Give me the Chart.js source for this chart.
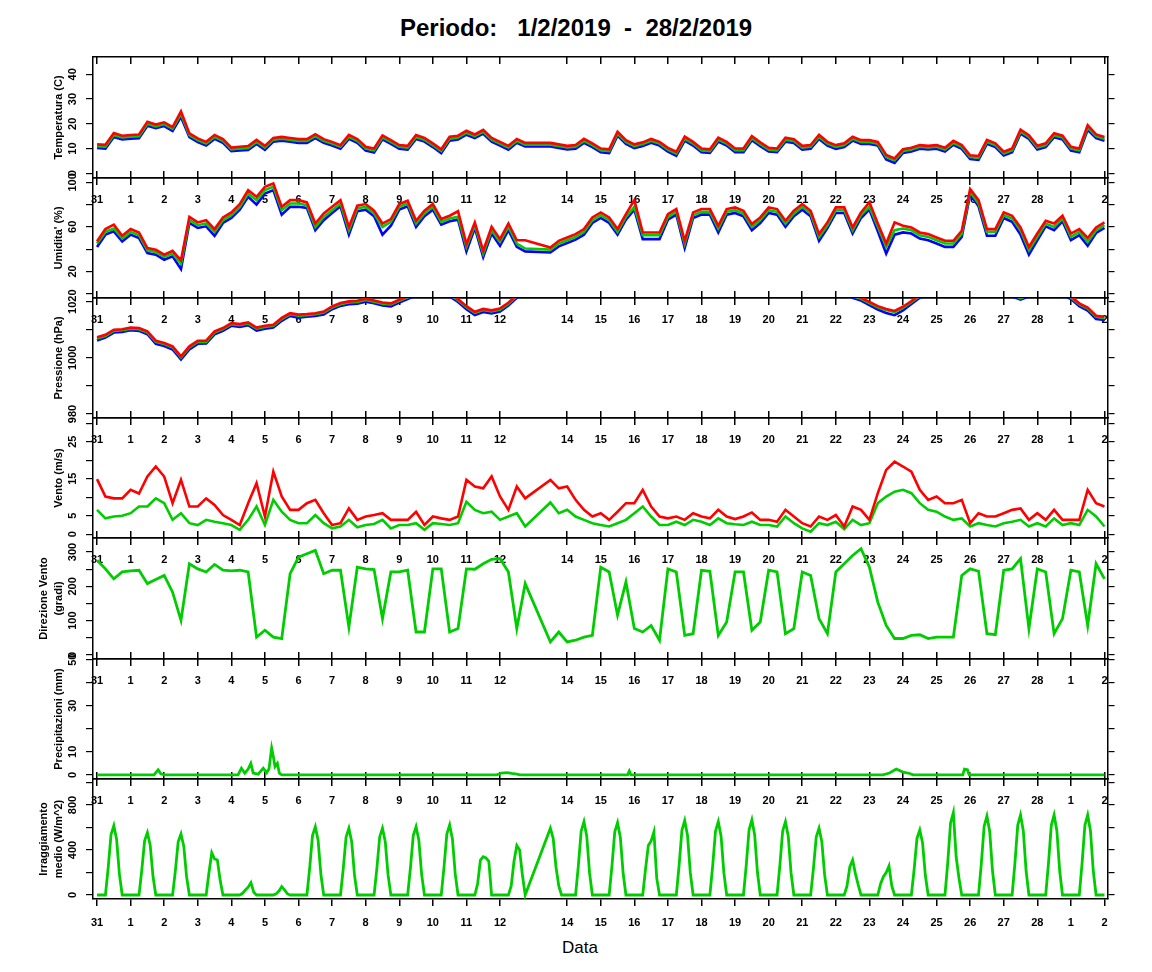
<!DOCTYPE html>
<html lang="it">
<head>
<meta charset="UTF-8">
<title>Periodo 1/2/2019 - 28/2/2019</title>
<script src="https://cdn.jsdelivr.net/npm/chart.js@4"></script>
<style>
  body { margin: 0; background: #fff; }
  #page { position: relative; width: 1152px; height: 972px; overflow: hidden; font-family: "Liberation Sans", Arial, sans-serif; color: #000; }
  #page canvas { position: absolute; left: 0; }
  #title { position: absolute; left: 400px; top: 14px; font-size: 24px; line-height: 28px; font-weight: bold; white-space: pre; }
  #xlabel { position: absolute; left: 562px; top: 938px; font-size: 17px; line-height: 20px; }
</style>
</head>
<body>
<div id="page">
  <div id="title">Periodo:   1/2/2019  -  28/2/2019</div>
  <div id="xlabel">Data</div>
</div>
<script>
// x is in days: -1 is the "31" tick, 0 the "1" tick ... 29 the last "2" tick
const dayTicks = [-1, 0, 1, 2, 3, 4, 5, 6, 7, 8, 9, 10, 11, 13, 14, 15, 16, 17, 18, 19, 20, 21, 22, 23, 24, 25, 26, 27, 28, 29];
const dayLabels = ['31', '1', '2', '3', '4', '5', '6', '7', '8', '9', '10', '11', '12', '14', '15', '16', '17', '18',
                   '19', '20', '21', '22', '23', '24', '25', '26', '27', '28', '1', '2'];

// readings every 6 hours (no data around the 13th)
const sampleDays = Array.from({ length: 121 }, (_, i) => -1 + i / 4);

const tempMax = [
  11.7, 11.5, 16.3, 15.2, 15.5, 15.7, 20.8, 19.7,
  20.6, 18.7, 25.0, 16.1, 14.1, 12.7, 15.5, 13.8,
  10.4, 10.7, 11.0, 13.5, 11.1, 14.3, 14.7, 14.3,
  13.8, 13.8, 15.8, 13.8, 12.7, 11.4, 15.5, 13.8,
  10.7, 10.0, 15.3, 13.4, 11.4, 11.1, 15.5, 14.3,
  12.1, 9.7, 14.8, 15.2, 17.2, 15.7, 17.6, 14.3,
  12.7, 11.1, 13.9, 12.3, null, null, 12.3, 11.7,
  11.1, 11.4, 13.9, 12.1, 10.0, 9.7, 16.8, 13.4,
  11.7, 12.5, 13.9, 12.7, 10.3, 8.7, 14.8, 12.7,
  10.0, 9.7, 14.4, 12.7, 10.0, 10.0, 15.0, 12.5,
  10.3, 10.0, 14.4, 13.8, 11.1, 11.4, 15.5, 12.7,
  11.4, 12.1, 14.8, 13.4, 13.4, 12.7, 7.4, 6.0,
  9.7, 10.3, 11.4, 11.1, 11.4, 10.3, 13.1, 11.4,
  7.3, 7.0, 13.5, 12.1, 8.7, 10.0, 17.6, 15.4,
  11.1, 12.1, 16.2, 15.2, 10.7, 10.0, 19.4, 15.7,
  14.7
];
const tempAvg = [
  11.0, 10.8, 15.5, 14.5, 14.8, 15.0, 20.0, 19.0,
  19.9, 18.0, 24.0, 15.4, 13.4, 12.0, 14.7, 13.1,
  9.7, 10.0, 10.2, 12.7, 10.4, 13.6, 14.0, 13.6,
  13.1, 13.1, 15.0, 13.1, 12.0, 10.7, 14.7, 13.1,
  10.0, 9.3, 14.5, 12.7, 10.7, 10.4, 14.7, 13.6,
  11.4, 9.0, 14.0, 14.5, 16.4, 15.0, 16.8, 13.6,
  12.0, 10.4, 13.1, 11.6, null, null, 11.6, 11.0,
  10.4, 10.7, 13.1, 11.4, 9.3, 9.0, 16.0, 12.7,
  11.0, 11.8, 13.1, 12.0, 9.6, 8.0, 14.0, 12.0,
  9.3, 9.0, 13.6, 12.0, 9.3, 9.3, 14.2, 11.8,
  9.6, 9.3, 13.6, 13.1, 10.4, 10.7, 14.7, 12.0,
  10.7, 11.4, 14.0, 12.7, 12.7, 12.0, 6.6, 5.3,
  9.0, 9.6, 10.7, 10.4, 10.7, 9.6, 12.3, 10.7,
  6.6, 6.3, 12.7, 11.4, 8.0, 9.3, 16.8, 14.7,
  10.4, 11.4, 15.4, 14.5, 10.0, 9.3, 18.5, 15.0,
  14.0
];
const tempMin = [
  10.2, 10.0, 14.7, 13.7, 14.0, 14.2, 19.2, 18.2,
  19.1, 17.1, 22.8, 14.6, 12.6, 11.2, 13.9, 12.3,
  8.9, 9.2, 9.4, 11.9, 9.5, 12.8, 13.2, 12.8,
  12.3, 12.3, 14.2, 12.3, 11.2, 9.9, 13.9, 12.3,
  9.2, 8.4, 13.7, 11.9, 9.9, 9.6, 13.9, 12.8,
  10.6, 8.1, 13.2, 13.7, 15.6, 14.2, 16.0, 12.8,
  11.2, 9.5, 12.3, 10.8, null, null, 10.8, 10.2,
  9.6, 9.9, 12.3, 10.6, 8.5, 8.2, 15.2, 11.9,
  10.2, 11.0, 12.3, 11.2, 8.8, 7.1, 13.2, 11.2,
  8.5, 8.2, 12.8, 11.2, 8.5, 8.5, 13.4, 11.0,
  8.8, 8.5, 12.8, 12.3, 9.6, 9.9, 13.9, 11.2,
  9.9, 10.6, 13.2, 11.9, 11.9, 11.2, 5.6, 4.2,
  8.2, 8.8, 9.9, 9.6, 9.9, 8.8, 11.5, 9.9,
  5.8, 5.4, 11.9, 10.6, 7.2, 8.5, 16.0, 13.9,
  9.6, 10.6, 14.6, 13.7, 9.2, 8.5, 17.6, 14.2,
  13.2
];

const humMax = [
  47, 58, 62, 52, 58, 55, 41, 39.5,
  35, 38.5, 30, 69, 64, 66, 58, 68.5,
  73, 80.5, 93, 87, 96, 99, 78, 84,
  84, 82, 63, 72, 78, 84, 60, 79,
  80.5, 74.5, 63, 67, 80.5, 83.5, 65.5, 74.5,
  80.5, 67, 70, 74, 44.5, 64, 38.5, 60,
  49, 63, 48, 48, null, null, 41.5, 47.5,
  50.5, 53.5, 58, 68.5, 73, 68.5, 58, 71.5,
  84, 55, 55, 55, 71.5, 76, 47.5, 73,
  76, 76, 61, 76, 77.5, 74.5, 62.5, 68.5,
  77.5, 76, 65.5, 74.5, 80.5, 74.5, 53.5, 64,
  77.5, 77.5, 59.5, 73, 82, 63, 45, 64,
  61, 59.5, 55, 53.5, 50.5, 47.5, 47.5, 56.5,
  94, 84, 58, 58, 73, 70, 59.5, 42,
  54, 65.5, 63, 70, 54, 58, 50, 59.5,
  64
];
const humAvg = [
  45, 55.5, 58.5, 49.5, 55.5, 52.5, 39, 37.5,
  33, 36, 27, 66, 61.5, 63, 55.5, 66,
  70.5, 78, 90, 84, 93, 96, 75, 81,
  81, 79.5, 60, 69, 75, 81, 57, 76.5,
  78, 72, 60, 64.5, 78, 81, 63, 72,
  78, 64.5, 67.5, 69, 42, 61.5, 36, 57,
  46.5, 60, 45, 40.5, null, null, 39.6, 45,
  48, 51, 55.5, 66, 70.5, 66, 55.5, 69,
  78, 52.5, 52.5, 52.5, 69, 73.5, 45, 70.5,
  73.5, 73.5, 58.5, 73.5, 75, 72, 60, 66,
  75, 73.5, 63, 72, 78, 72, 51, 61.5,
  75, 75, 57, 70.5, 78, 60, 42, 57,
  58.5, 57, 52.5, 51, 48, 45, 45, 54,
  91.5, 81, 55.5, 55.5, 70.5, 67.5, 57, 39,
  51, 63, 60, 67.5, 51, 55.5, 46.5, 57,
  61.5
];
const humMin = [
  42, 53, 56, 47, 53, 50, 36.5, 35,
  30.5, 33.5, 22, 63.5, 59, 60.5, 52, 63.5,
  68, 75.5, 87, 80, 90, 93, 71, 78,
  78, 77, 57, 66, 72.5, 78.5, 53, 74,
  75.5, 69.5, 53, 61, 75.5, 78.5, 60, 69.5,
  75.5, 62, 65, 66.5, 38, 59, 33, 54,
  43, 57, 42, 38, null, null, 37, 42.5,
  45.5, 48.5, 53, 63.5, 68, 63.5, 53, 66.5,
  75.5, 49, 49, 49, 66.5, 71, 41, 68,
  71, 71, 55, 71, 72.5, 69.5, 57, 63.5,
  72.5, 71, 60, 69.5, 75.5, 69.5, 47.5, 59,
  72.5, 72.5, 54, 68, 75.5, 56, 36, 53,
  55, 54, 49.5, 48, 45, 42, 42, 51,
  89, 78.5, 52, 52, 68, 64.5, 53, 35,
  48, 60.5, 57, 65, 48, 52.5, 43, 54.5,
  59
];

const pressMax = [
  1007.3, 1008.2, 1010.0, 1010.2, 1010.8, 1010.6, 1009.4, 1006.1,
  1005.3, 1004.1, 1000.5, 1004.1, 1006.1, 1006.1, 1009.4, 1010.6,
  1012.4, 1012.0, 1012.6, 1010.8, 1011.4, 1011.8, 1014.2, 1015.9,
  1015.4, 1015.6, 1015.9, 1016.5, 1018.3, 1019.5, 1020.1, 1020.3,
  1021.0, 1020.4, 1019.7, 1019.4, 1020.7, 1021.9, 1023.4, 1024.4,
  1024.9, 1024.4, 1022.9, 1020.9, 1018.4, 1016.4, 1017.4, 1016.9,
  1017.6, 1019.6, 1022.4, 1023.9, null, null, 1025.9, 1026.4,
  1026.9, 1027.4, 1027.9, 1028.4, 1028.9, 1028.4, 1027.9, 1027.9,
  1028.4, 1028.9, 1029.4, 1029.4, 1029.9, 1029.9, 1029.4, 1029.4,
  1029.9, 1030.4, 1029.9, 1029.4, 1029.4, 1028.9, 1028.4, 1028.4,
  1028.9, 1028.4, 1027.9, 1027.4, 1027.4, 1026.9, 1026.4, 1025.4,
  1024.9, 1024.4, 1022.4, 1021.4, 1019.9, 1018.4, 1017.4, 1016.7,
  1018.2, 1020.2, 1022.4, 1023.9, 1024.9, 1025.4, 1025.9, 1025.9,
  1025.4, 1024.4, 1023.4, 1022.9, 1022.9, 1022.9, 1021.6, 1022.9,
  1023.9, 1024.4, 1023.9, 1023.4, 1021.9, 1019.4, 1017.9, 1015.0,
  1014.6
];
const pressAvg = [
  1006.9, 1007.8, 1009.6, 1009.8, 1010.4, 1010.2, 1009.0, 1005.7,
  1004.9, 1003.7, 1000.1, 1003.7, 1005.7, 1005.7, 1009.0, 1010.2,
  1012.0, 1011.6, 1012.2, 1010.4, 1011.0, 1011.4, 1013.8, 1015.5,
  1015.0, 1015.2, 1015.5, 1016.1, 1017.9, 1019.1, 1019.7, 1019.9,
  1020.6, 1020.0, 1019.3, 1019.0, 1020.3, 1021.5, 1023.0, 1024.0,
  1024.5, 1024.0, 1022.5, 1020.5, 1018.0, 1016.0, 1017.0, 1016.5,
  1017.2, 1019.2, 1022.0, 1023.5, null, null, 1025.5, 1026.0,
  1026.5, 1027.0, 1027.5, 1028.0, 1028.5, 1028.0, 1027.5, 1027.5,
  1028.0, 1028.5, 1029.0, 1029.0, 1029.5, 1029.5, 1029.0, 1029.0,
  1029.5, 1030.0, 1029.5, 1029.0, 1029.0, 1028.5, 1028.0, 1028.0,
  1028.5, 1028.0, 1027.5, 1027.0, 1027.0, 1026.5, 1026.0, 1025.0,
  1024.5, 1024.0, 1022.0, 1021.0, 1019.5, 1018.0, 1017.0, 1016.3,
  1017.8, 1019.8, 1022.0, 1023.5, 1024.5, 1025.0, 1025.5, 1025.5,
  1025.0, 1024.0, 1023.0, 1022.5, 1022.5, 1022.5, 1021.2, 1022.5,
  1023.5, 1024.0, 1023.5, 1023.0, 1021.5, 1019.0, 1017.5, 1014.6,
  1014.2
];
const pressMin = [
  1006.2, 1007.2, 1009.0, 1009.2, 1009.8, 1009.6, 1008.4, 1005.0,
  1004.2, 1003.0, 999.4, 1003.0, 1005.0, 1005.1, 1008.4, 1009.6,
  1011.4, 1011.0, 1011.6, 1009.7, 1010.4, 1010.8, 1013.2, 1014.9,
  1014.3, 1014.6, 1014.9, 1015.4, 1017.3, 1018.5, 1019.1, 1019.3,
  1020.0, 1019.4, 1018.6, 1018.3, 1019.7, 1020.9, 1022.4, 1023.4,
  1023.9, 1023.4, 1021.9, 1019.9, 1017.3, 1015.2, 1016.3, 1015.8,
  1016.5, 1018.6, 1021.4, 1022.9, null, null, 1024.9, 1025.4,
  1025.9, 1026.4, 1026.9, 1027.4, 1027.9, 1027.4, 1026.9, 1026.9,
  1027.4, 1027.9, 1028.4, 1028.4, 1028.9, 1028.9, 1028.4, 1028.4,
  1028.9, 1029.4, 1028.9, 1028.4, 1028.4, 1027.9, 1027.4, 1027.4,
  1027.9, 1027.4, 1026.9, 1026.4, 1026.4, 1025.9, 1025.4, 1024.4,
  1023.9, 1023.4, 1021.4, 1020.4, 1018.8, 1017.2, 1016.0, 1015.2,
  1016.9, 1019.2, 1021.4, 1022.9, 1023.9, 1024.4, 1024.9, 1024.9,
  1024.4, 1023.4, 1022.4, 1021.9, 1021.9, 1021.9, 1020.7, 1021.9,
  1022.9, 1023.4, 1022.9, 1022.4, 1020.9, 1018.4, 1016.8, 1013.8,
  1013.5
];

const windMax = [
  14.9, 10.2, 9.7, 9.7, 12.0, 11.0, 15.6, 18.3,
  15.6, 8.4, 14.7, 7.5, 7.5, 9.7, 7.9, 5.2,
  3.9, 2.5, 8.4, 13.8, 4.8, 16.9, 10.2, 6.6,
  6.6, 8.4, 9.3, 5.7, 2.5, 3.0, 7.0, 3.9,
  4.8, 5.2, 5.7, 3.9, 3.9, 3.9, 6.1, 2.5,
  4.8, 4.3, 3.9, 4.8, 14.7, 12.9, 12.4, 15.6,
  10.2, 6.6, 12.9, 9.7, null, null, 14.7, 12.4,
  12.9, 9.3, 6.6, 4.8, 5.7, 3.9, 6.1, 8.4,
  8.4, 12.0, 7.5, 4.8, 4.3, 4.8, 3.9, 5.7,
  4.8, 4.3, 6.6, 4.8, 4.1, 4.8, 5.9, 3.9,
  3.9, 3.4, 6.6, 4.8, 3.0, 2.1, 4.8, 3.9,
  5.2, 2.1, 7.5, 6.6, 3.9, 11.1, 17.4, 19.6,
  18.3, 16.9, 12.0, 9.3, 10.2, 8.4, 8.4, 9.3,
  3.0, 5.7, 4.8, 4.8, 5.7, 6.6, 7.0, 3.9,
  5.7, 3.9, 6.6, 3.9, 3.9, 3.9, 12.0, 8.4,
  7.5
];
const windAvg = [
  6.6, 4.3, 4.8, 5.0, 5.7, 7.5, 7.5, 9.7,
  8.4, 3.9, 5.7, 3.0, 2.5, 3.9, 3.4, 3.0,
  2.5, 1.2, 3.9, 7.5, 2.5, 9.3, 6.1, 3.9,
  3.0, 3.0, 5.2, 3.0, 1.6, 2.1, 3.9, 1.9,
  2.5, 2.8, 3.9, 1.6, 2.5, 2.5, 3.0, 1.2,
  3.0, 2.8, 2.5, 3.0, 8.8, 6.6, 5.7, 6.1,
  3.9, 4.8, 5.7, 2.1, null, null, 8.6, 5.7,
  6.6, 4.8, 3.9, 3.0, 2.5, 2.1, 3.0, 3.9,
  5.7, 7.5, 4.8, 2.5, 2.5, 3.4, 2.5, 3.9,
  3.4, 2.5, 4.3, 3.0, 2.7, 2.5, 3.4, 2.5,
  2.5, 2.1, 4.8, 3.0, 1.6, 0.7, 3.0, 2.5,
  3.4, 1.4, 3.9, 2.5, 3.0, 8.4, 10.2, 11.5,
  12.0, 11.1, 8.4, 6.6, 6.1, 4.8, 3.9, 4.3,
  2.1, 3.0, 2.5, 2.1, 3.0, 3.4, 3.9, 2.1,
  3.0, 2.1, 4.3, 2.5, 3.0, 2.5, 6.6, 4.8,
  2.1
];

const windDir = [
  276, 251, 222, 242, 245, 247, 208, 220,
  232, 183, 101, 266, 251, 242, 264, 247,
  245, 247, 242, 52, 72, 52, 48, 237,
  285, 295, 305, 237, 247, 247, 81, 256,
  251, 249, 106, 242, 242, 247, 67, 67,
  251, 251, 67, 77, 251, 250, 266, 279,
  281, 242, 77, 208, null, null, 38, 67,
  38, 43, 52, 57, 256, 242, 116, 213,
  77, 67, 86, 43, 251, 242, 57, 62,
  247, 244, 57, 96, 242, 242, 72, 96,
  247, 242, 62, 77, 242, 232, 106, 62,
  242, 266, 290, 310, 256, 154, 86, 48,
  48, 57, 59, 48, 52, 52, 52, 232,
  251, 244, 62, 59, 247, 251, 281, 77,
  251, 242, 62, 106, 247, 242, 86, 266,
  222
];

// rain: only the few showers, zero elsewhere
const rainDays = [-1, 0.7, 0.78, 0.82, 0.9, 1.0, 3.2, 3.3, 3.4, 3.5, 3.58, 3.65, 3.8, 3.95, 4.05, 4.12, 4.2, 4.25,
                  4.3, 4.37, 4.43, 4.5, 10.9, 11.05, 11.2, 11.35, 11.5, 11.6, 14.8, 14.85, 14.9, 22.4, 22.6, 22.8,
                  23.0, 23.2, 23.3, 24.78, 24.83, 24.92, 24.97, 29];
const rainValues = [0, 0, 1.5, 2.2, 0.5, 0, 0, 2.9, 0.7, 2.5, 5.0, 0.8, 0.3, 2.9, 0.9, 2.5, 11.6, 8.0,
                    3.6, 5.0, 0.7, 0, 0, 0.8, 1.0, 0.6, 0.3, 0, 0, 1.7, 0, 0, 0.8, 2.5,
                    1.2, 0.6, 0, 0, 2.5, 2.2, 0, 0];

// solar radiation every 2 hours, one row per day
const solarDays = Array.from({ length: 361 }, (_, i) => -1 + i / 12);
const solarValues = [
  0, 0, 0, 0, 246, 536, 616, 493, 185, 0, 0, 0,
  0, 0, 0, 0, 222, 482, 554, 443, 166, 0, 0, 0,
  0, 0, 0, 0, 217, 472, 542, 434, 163, 0, 0, 0,
  0, 0, 0, 0, 200, 376, 320, 311, 130, 0, 0, 0,
  0, 0, 0, 0, 15, 44, 70, 110, 25, 0, 0, 0,
  0, 0, 0, 0, 10, 35, 74, 45, 12, 0, 0, 0,
  0, 0, 0, 0, 243, 528, 607, 486, 182, 0, 0, 0,
  0, 0, 0, 0, 237, 516, 593, 474, 178, 0, 0, 0,
  0, 0, 0, 0, 237, 516, 593, 474, 178, 0, 0, 0,
  0, 0, 0, 0, 243, 528, 607, 486, 182, 0, 0, 0,
  0, 0, 0, 0, 249, 541, 622, 498, 187, 0, 0, 0,
  0, 0, 0, 0, 100, 310, 340, 330, 300, 0, 0, 0,
  0, 0, 0, 0, 80, 300, 440, 400, 180, 0, null, null,
  null, null, null, null, null, null, 593, 504, 250, 80, 0, 0,
  0, 0, 0, 0, 261, 567, 652, 522, 196, 0, 0, 0,
  0, 0, 0, 0, 257, 559, 643, 514, 193, 0, 0, 0,
  0, 0, 0, 0, 230, 440, 480, 560, 150, 0, 0, 0,
  0, 0, 0, 0, 264, 575, 661, 529, 198, 0, 0, 0,
  0, 0, 0, 0, 261, 567, 652, 522, 196, 0, 0, 0,
  0, 0, 0, 0, 267, 580, 667, 534, 200, 0, 0, 0,
  0, 0, 0, 0, 261, 567, 652, 522, 196, 0, 0, 0,
  0, 0, 0, 0, 237, 516, 593, 474, 178, 0, 0, 0,
  0, 0, 0, 0, 80, 250, 311, 190, 90, 0, 0, 0,
  0, 0, 0, 0, 100, 163, 200, 258, 80, 0, 0, 0,
  0, 0, 0, 0, 231, 503, 578, 462, 173, 0, 0, 0,
  0, 0, 0, 0, 290, 640, 732, 340, 150, 0, 0, 0,
  0, 0, 0, 0, 281, 611, 702, 562, 211, 0, 0, 0,
  0, 0, 0, 0, 284, 619, 711, 569, 213, 0, 0, 0,
  0, 0, 0, 0, 284, 619, 711, 569, 213, 0, 0, 0,
  0, 0, 0, 0, 284, 619, 711, 569, 213, 0, 0, 0,
  0
];

const RED = '#ff0000';
const GREEN = '#00cd00';
const BLUE = '#0000ff';
const X_MIN = -1.12;
const X_MAX = 29.09;
const FONT = '"Liberation Sans", Arial, sans-serif';

// pixel rows of each panel frame on the page
const panelTops = [57, 178, 298, 418, 538, 659, 779];
const panelBottoms = [178, 298, 418, 538, 659, 779, 899];

const panels = [
  { min: -1.9, max: 47, ticks: [0, 10, 20, 30, 40], shown: [0, 10, 20, 30, 40], pad: 6.9,
    title: 'Temperatura (C)',
    series: [[sampleDays, tempMax, RED], [sampleDays, tempAvg, GREEN], [sampleDays, tempMin, BLUE]] },
  { min: -3.9, max: 103.9, ticks: [0, 20, 40, 60, 80, 100], shown: [20, 60, 100], pad: 3.8,
    title: "Umidita' (%)",
    series: [[sampleDays, humMax, RED], [sampleDays, humAvg, GREEN], [sampleDays, humMin, BLUE]] },
  { min: 978.6, max: 1021.3, ticks: [980, 990, 1000, 1010, 1020], shown: [980, 1000, 1020], pad: 0.8,
    title: 'Pressione (hPa)',
    series: [[sampleDays, pressMax, RED], [sampleDays, pressAvg, GREEN], [sampleDays, pressMin, BLUE]] },
  { min: -1.0, max: 31.4, ticks: [0, 5, 10, 15, 20, 25, 30], shown: [0, 5, 15, 25], pad: 6.9,
    title: 'Vento (m/s)',
    series: [[sampleDays, windMax, RED], [sampleDays, windAvg, GREEN]] },
  { min: -11.7, max: 341, ticks: [0, 50, 100, 150, 200, 250, 300], shown: [0, 100, 200, 300], pad: 3.8,
    title: ['Direzione Vento', '(gradi)'],
    series: [[sampleDays, windDir, GREEN]] },
  { min: -1.8, max: 50.3, ticks: [0, 10, 20, 30, 40, 50], shown: [0, 10, 30, 50], pad: 6.9,
    title: 'Precipitazioni (mm)',
    series: [[rainDays, rainValues, GREEN]] },
  { min: -35.6, max: 1031, ticks: [0, 200, 400, 600, 800, 1000], shown: [0, 400, 800], pad: 3.8,
    title: ['Irraggiamento', 'medio (W/m^2)'],
    series: [[solarDays, solarValues, GREEN]] }
];

const page = document.getElementById('page');
const tickFont = { family: FONT, size: 11, weight: 'bold' };
const titleFont = { family: FONT, size: 11, weight: 'bold', lineHeight: '15px' };
const frame = { display: true, color: '#000', width: 1.5 };

function setTicks(values) {
  return scale => { scale.ticks = values.map(v => ({ value: v })); };
}

function makePanel(p, idx) {
  const last = idx === panels.length - 1;
  const padTop = 20, padBottom = 45;
  const top = panelTops[idx], bottom = panelBottoms[idx];
  const canvas = document.createElement('canvas');
  canvas.width = 1152;
  canvas.height = bottom - top + padTop + padBottom;
  canvas.style.top = (top - padTop) + 'px';
  page.appendChild(canvas);

  const datasets = p.series.map(([xs, ys, color], k) => ({
    data: xs.map((x, i) => ({ x: x, y: ys[i] })),
    borderColor: color,
    borderWidth: p.series.length === 1 ? 2.8 : 2.6,
    pointRadius: 0,
    tension: 0,
    spanGaps: true,
    order: k
  }));

  new Chart(canvas, {
    type: 'line',
    data: { datasets: datasets },
    options: {
      responsive: false,
      animation: false,
      events: [],
      layout: { padding: { top: padTop, bottom: 0, left: 0, right: 0 } },
      plugins: { legend: { display: false }, tooltip: { enabled: false } },
      scales: {
        x: {
          type: 'linear', position: 'bottom', min: X_MIN, max: X_MAX,
          afterBuildTicks: setTicks(dayTicks),
          afterFit: s => { s.height = padBottom; },
          grid: { drawOnChartArea: false, tickLength: last ? 7 : -7, color: '#000', lineWidth: 1.5 },
          border: frame,
          ticks: {
            autoSkip: false, maxRotation: 0, minRotation: 0, padding: last ? 10 : 22.4,
            color: '#000', font: tickFont,
            callback: (v, i) => dayLabels[i]
          }
        },
        xTop: {
          type: 'linear', position: 'top', min: X_MIN, max: X_MAX,
          afterBuildTicks: setTicks(dayTicks),
          afterFit: s => { s.height = 0; },
          grid: { drawOnChartArea: false, tickLength: -7, color: '#000', lineWidth: 1.5 },
          border: frame,
          ticks: { display: false, autoSkip: false }
        },
        y: {
          type: 'linear', position: 'left', min: p.min, max: p.max,
          afterBuildTicks: setTicks(p.ticks),
          afterFit: s => { s.width = 93; },
          grid: { drawOnChartArea: false, tickLength: 7, color: '#000', lineWidth: 1.2 },
          border: frame,
          ticks: {
            autoSkip: false, minRotation: 90, maxRotation: 90, crossAlign: 'center',
            padding: p.pad, color: '#000', font: tickFont,
            callback: v => (p.shown.includes(v) ? String(v) : '')
          },
          title: {
            display: true, text: p.title, color: '#000', font: titleFont,
            padding: { top: Array.isArray(p.title) ? 36.5 : 51, bottom: 0 }
          }
        },
        yRight: {
          type: 'linear', position: 'right', min: p.min, max: p.max,
          afterBuildTicks: setTicks(p.ticks),
          afterFit: s => { s.width = 1152 - 1107.5; },
          grid: { drawOnChartArea: false, tickLength: 7, color: '#000', lineWidth: 1.2 },
          border: frame,
          ticks: { display: false, autoSkip: false }
        }
      }
    }
  });
}

panels.forEach(makePanel);
</script>
</body>
</html>
